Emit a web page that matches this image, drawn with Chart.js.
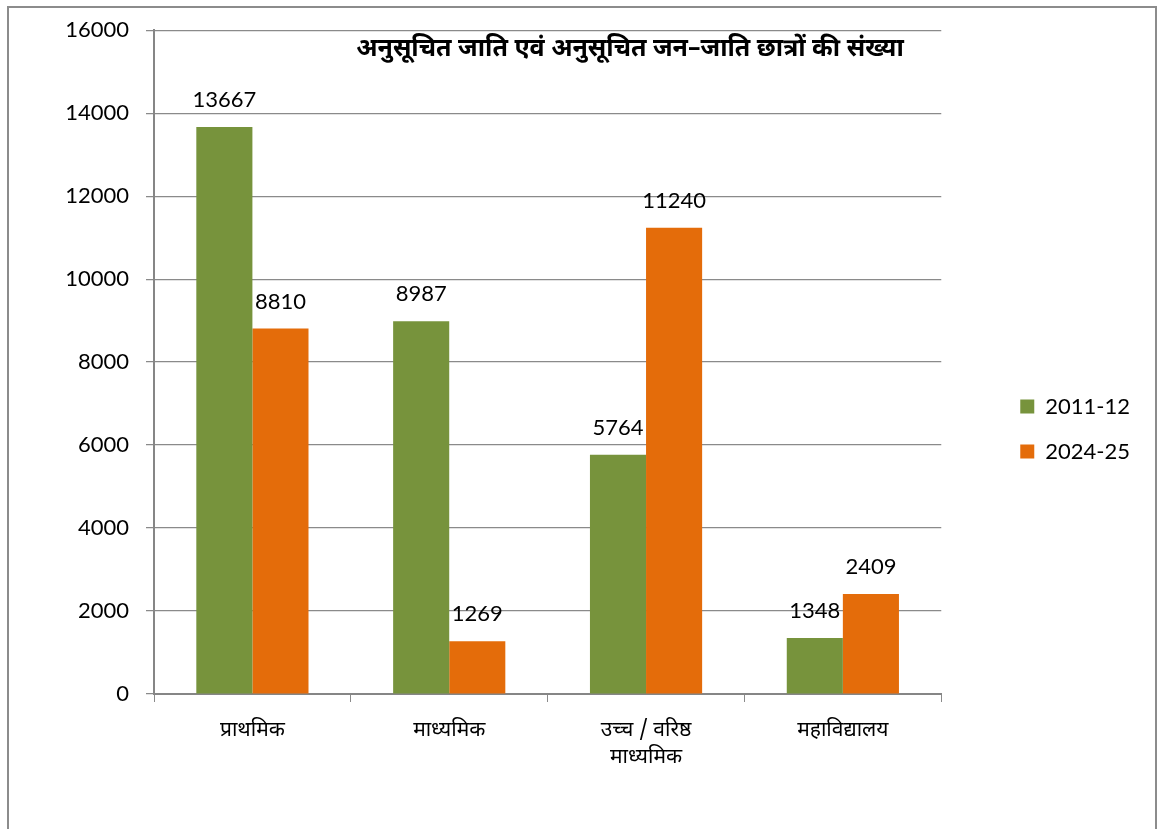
<!DOCTYPE html>
<html>
<head>
<meta charset="utf-8">
<script src="https://cdn.jsdelivr.net/npm/chart.js@4.4.1/dist/chart.umd.min.js"></script>
<style>
  html, body { margin: 0; padding: 0; background: #fff; overflow: hidden; }
  #wrap { position: relative; width: 1160px; height: 829px; }
  #frame { position: absolute; left: 7px; top: 6px; width: 1146px; height: 900px; border: 2px solid #8c8c8c; pointer-events: none; }
</style>
</head>
<body>
<div id="wrap">
  <canvas id="barChart" width="1160" height="829"></canvas>
  <div id="frame"></div>
</div>
<script>
// ---- data ----
const categories = ['प्राथमिक', 'माध्यमिक', ['उच्च / वरिष्ठ', 'माध्यमिक'], 'महाविद्यालय'];
const seriesNames = ['2011-12', '2024-25'];
const values2011 = [13667, 8987, 5764, 1348];
const values2024 = [8810, 1269, 11240, 2409];
const yTicks = [0, 2000, 4000, 6000, 8000, 10000, 12000, 14000, 16000];
const chartTitle = 'अनुसूचित जाति एवं अनुसूचित जन–जाति छात्रों की संख्या';

const numFont = 'Lato';
const hindiFont = "'Noto Sans Devanagari', 'Lohit Devanagari', 'Noto Sans', sans-serif";
const gridGray = '#8a8a8a';

// value above every bar
const valueLabels = {
    id: 'valueLabels',
    afterDatasetsDraw(chart) {
        const ctx = chart.ctx;
        ctx.save();
        ctx.font = '22px ' + numFont;
        ctx.fillStyle = '#000';
        ctx.textAlign = 'center';
        ctx.textBaseline = 'middle';
        chart.data.datasets.forEach(function (ds, i) {
            chart.getDatasetMeta(i).data.forEach(function (bar, j) {
                ctx.fillText(ds.data[j], bar.x, bar.y - 27);
            });
        });
        ctx.restore();
    }
};

// title sits inside the plot area
const innerTitle = {
    id: 'innerTitle',
    afterDraw(chart) {
        const ctx = chart.ctx;
        ctx.save();
        ctx.font = 'bold 25px ' + hindiFont;
        ctx.fillStyle = '#000';
        ctx.textAlign = 'center';
        ctx.textBaseline = 'middle';
        ctx.fillText(chartTitle, 630, 51);
        ctx.restore();
    }
};

const ctx = document.getElementById('barChart');

new Chart(ctx, {
    type: 'bar',
    data: {
        labels: categories,
        datasets: [
            { label: seriesNames[0], data: values2011, backgroundColor: '#77933c' },
            { label: seriesNames[1], data: values2024, backgroundColor: '#e46c0a' }
        ]
    },
    options: {
        responsive: false,
        animation: false,
        events: [],
        datasets: { bar: { categoryPercentage: 0.57, barPercentage: 1.0, borderWidth: 0 } },
        layout: { padding: { left: 0, top: 29, right: 20, bottom: 0 } },
        plugins: {
            tooltip: { enabled: false },
            title: { display: false },
            legend: {
                position: 'right',
                align: 'center',
                labels: {
                    boxWidth: 14,
                    boxHeight: 14,
                    padding: 23,
                    color: '#000',
                    font: { family: numFont, size: 22 }
                }
            }
        },
        scales: {
            x: {
                grid: { offset: true, drawOnChartArea: false, tickLength: 8, color: gridGray },
                border: { color: '#868686', width: 2 },
                ticks: {
                    padding: 16,
                    maxRotation: 0,
                    autoSkip: false,
                    color: '#000',
                    font: { family: hindiFont, size: 21, lineHeight: 1.3 }
                },
                afterFit(s) { s.height = 135; }
            },
            y: {
                min: yTicks[0],
                max: yTicks[yTicks.length - 1],
                afterBuildTicks(s) { s.ticks = yTicks.map(v => ({ value: v })); },
                grid: { color: gridGray, lineWidth: 1.25, tickLength: 8 },
                border: { color: '#868686', width: 2 },
                ticks: {
                    padding: 17,
                    color: '#000',
                    font: { family: numFont, size: 22 },
                    callback: v => String(v)
                },
                afterFit(s) { s.width = 154; }
            },
            // empty strip between the plot and the legend
            gap: {
                type: 'linear',
                axis: 'y',
                position: 'right',
                grid: { display: false },
                border: { display: false },
                ticks: { display: false },
                afterFit(s) { s.width = 56; }
            }
        }
    },
    plugins: [valueLabels, innerTitle]
});
</script>
</body>
</html>
